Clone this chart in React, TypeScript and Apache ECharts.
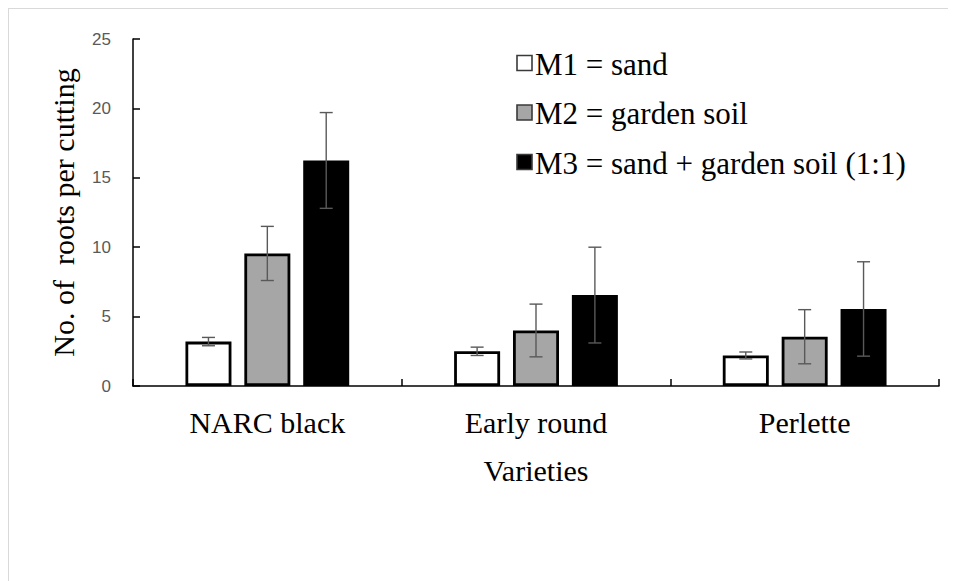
import React, { useEffect, useRef } from "react";
import * as echarts from "echarts";

// Varieties on the category axis
const varieties = ["NARC black", "Early round", "Perlette"];

// Rooting media (legend entries)
const mediaNames = ["M1 = sand", "M2 = garden soil", "M3 = sand + garden soil (1:1)"];

// Mean number of roots per cutting for each medium
const m1Means = [3.2, 2.5, 2.2];
const m2Means = [9.55, 4.0, 3.55];
const m3Means = [16.25, 6.55, 5.55];

// Standard error (half-length of each error bar)
const m1Errors = [0.3, 0.3, 0.25];
const m2Errors = [1.95, 1.9, 1.95];
const m3Errors = [3.45, 3.45, 3.4];

// Y-axis ticks
const yMin = 0;
const yMax = 25;
const yStep = 5;

const SERIF = "Liberation Serif";
const SANS = "Liberation Sans";

const BAR_WIDTH = 46;
const BAR_GAP = "28%";
const BAR_STEP = BAR_WIDTH * 1.28; // centre-to-centre distance of neighbouring bars
const CAP_HALF = 6.5;

const fills = ["#ffffff", "#a6a6a6", "#000000"];

// Key in the upper right: one swatch + label per medium
const KEY_LEFT = 508;
const KEY_TOP = 54;
const KEY_ROW = 49.5;
const KEY_BOX = 15;
const KEY_SIZE = 31;

export default function App() {
  const ref = useRef<HTMLDivElement>(null);

  useEffect(() => {
    if (!ref.current) return;
    const chart = echarts.init(ref.current, undefined, { renderer: "svg" });

    const means = [m1Means, m2Means, m3Means];
    const errors = [m1Errors, m2Errors, m3Errors];

    // one row per bar: [category index, mean, error, medium index]
    const errorRows: number[][] = [];
    means.forEach((arr, g) => {
      arr.forEach((v, i) => errorRows.push([i, v, errors[g][i], g]));
    });

    const barSeries = mediaNames.map((name, g) => ({
      name,
      type: "bar",
      data: means[g],
      barWidth: BAR_WIDTH,
      barGap: BAR_GAP,
      itemStyle: {
        color: fills[g],
        borderColor: "#000000",
        borderWidth: 2.8,
      },
      z: 2,
    }));

    const keyElements: any[] = [];
    mediaNames.forEach((name, g) => {
      const cy = KEY_TOP + g * KEY_ROW;
      keyElements.push({
        type: "rect",
        shape: { x: KEY_LEFT, y: cy - KEY_BOX / 2, width: KEY_BOX, height: KEY_BOX },
        style: { fill: fills[g], stroke: "#3a3a3a", lineWidth: 1.6 },
      });
      // top-anchored text, shifted up by half its line so it centres on the swatch
      keyElements.push({
        type: "text",
        x: KEY_LEFT + KEY_BOX + 3,
        y: cy - KEY_SIZE / 2 + 1,
        style: {
          text: name,
          fontFamily: SERIF,
          fontSize: KEY_SIZE,
          fill: "#000000",
        },
      });
    });

    const option = {
      animation: false,
      textStyle: { fontFamily: SERIF, color: "#000000" },
      grid: { left: 124, right: 17, top: 30, bottom: 195, containLabel: false },
      graphic: keyElements,
      xAxis: {
        type: "category",
        data: varieties,
        name: "Varieties",
        nameLocation: "middle",
        nameGap: 69,
        nameTextStyle: { fontFamily: SERIF, fontSize: 30, color: "#000000" },
        axisLine: { lineStyle: { color: "#000000", width: 1.5 } },
        axisTick: { show: true, inside: true, length: 7, lineStyle: { color: "#000000", width: 1.5 } },
        axisLabel: { fontFamily: SERIF, fontSize: 30, color: "#000000", margin: 21 },
      },
      yAxis: {
        type: "value",
        min: yMin,
        max: yMax,
        interval: yStep,
        name: "No. of  roots per cutting",
        nameLocation: "middle",
        nameGap: 55,
        nameTextStyle: { fontFamily: SERIF, fontSize: 30, color: "#000000" },
        axisLine: { show: true, lineStyle: { color: "#000000", width: 1.5 } },
        axisTick: { show: true, inside: true, length: 7, lineStyle: { color: "#000000", width: 1.5 } },
        axisLabel: { fontFamily: SANS, fontSize: 17, color: "#595959", margin: 22 },
        splitLine: { show: false },
      },
      series: [
        ...barSeries,
        {
          name: "error",
          type: "custom",
          data: errorRows,
          encode: { x: 0, y: 1 },
          z: 5,
          clip: false,
          renderItem: (_params: any, api: any) => {
            const cat = api.value(0);
            const mean = api.value(1);
            const err = api.value(2);
            const g = api.value(3);
            const top = api.coord([cat, mean + err]);
            const bottom = api.coord([cat, mean - err]);
            const x = top[0] + (g - 1) * BAR_STEP;
            const style = { stroke: "#595959", lineWidth: 1.4 };
            return {
              type: "group",
              children: [
                { type: "line", shape: { x1: x, y1: top[1], x2: x, y2: bottom[1] }, style },
                { type: "line", shape: { x1: x - CAP_HALF, y1: top[1], x2: x + CAP_HALF, y2: top[1] }, style },
                { type: "line", shape: { x1: x - CAP_HALF, y1: bottom[1], x2: x + CAP_HALF, y2: bottom[1] }, style },
              ],
            };
          },
        },
      ],
    };

    chart.setOption(option as any);
    return () => chart.dispose();
  }, []);

  return (
    <div
      style={{
        width: 948,
        height: 573,
        boxSizing: "border-box",
        borderTop: "1px solid #d9d9d9",
        borderLeft: "1px solid #d9d9d9",
        background: "#ffffff",
      }}
    >
      <div ref={ref} style={{ width: 947, height: 572 }} />
    </div>
  );
}
